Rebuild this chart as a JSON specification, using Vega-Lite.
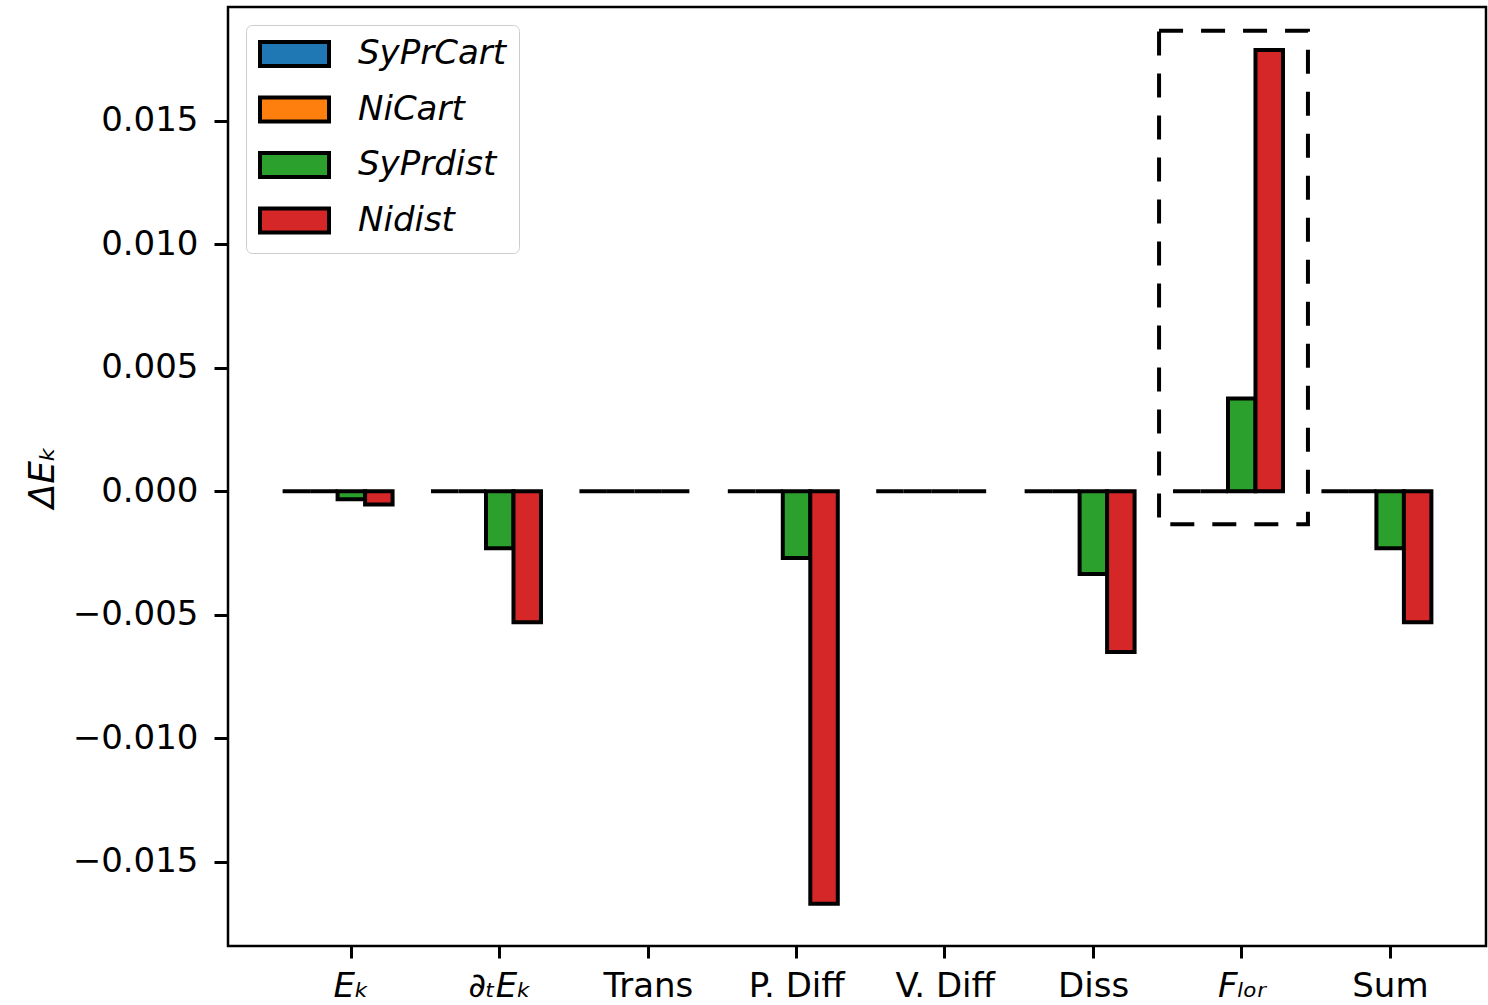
{
  "$schema": "https://vega.github.io/schema/vega-lite/v6.json",
  "width": 1258,
  "height": 939,
  "autosize": {"type": "none"},
  "padding": {"left": 228, "top": 7, "right": 2, "bottom": 59},
  "background": "white",
  "config": {
    "font": "DejaVu Sans",
    "view": {"stroke": "black", "strokeWidth": 2.5},
    "axis": {"domain": false, "grid": false, "tickColor": "black", "tickWidth": 3, "labelColor": "black", "labelFontSize": 34, "labelFont": "DejaVu Sans", "titleFont": "DejaVu Sans"}
  },
  "layer": [
    {
      "data": {"values": [
        {"cat": "E_k", "series": "SyPr_Cart", "value": 0},
        {"cat": "E_k", "series": "Ni_Cart", "value": 0},
        {"cat": "E_k", "series": "SyPr_dist", "value": -0.00032},
        {"cat": "E_k", "series": "Ni_dist", "value": -0.00053},
        {"cat": "dtE_k", "series": "SyPr_Cart", "value": 0},
        {"cat": "dtE_k", "series": "Ni_Cart", "value": 0},
        {"cat": "dtE_k", "series": "SyPr_dist", "value": -0.0023},
        {"cat": "dtE_k", "series": "Ni_dist", "value": -0.0053},
        {"cat": "Trans", "series": "SyPr_Cart", "value": 0},
        {"cat": "Trans", "series": "Ni_Cart", "value": 0},
        {"cat": "Trans", "series": "SyPr_dist", "value": 0},
        {"cat": "Trans", "series": "Ni_dist", "value": 0},
        {"cat": "P. Diff", "series": "SyPr_Cart", "value": 0},
        {"cat": "P. Diff", "series": "Ni_Cart", "value": 0},
        {"cat": "P. Diff", "series": "SyPr_dist", "value": -0.0027},
        {"cat": "P. Diff", "series": "Ni_dist", "value": -0.01669},
        {"cat": "V. Diff", "series": "SyPr_Cart", "value": 0},
        {"cat": "V. Diff", "series": "Ni_Cart", "value": 0},
        {"cat": "V. Diff", "series": "SyPr_dist", "value": 0},
        {"cat": "V. Diff", "series": "Ni_dist", "value": 0},
        {"cat": "Diss", "series": "SyPr_Cart", "value": 0},
        {"cat": "Diss", "series": "Ni_Cart", "value": 0},
        {"cat": "Diss", "series": "SyPr_dist", "value": -0.00335},
        {"cat": "Diss", "series": "Ni_dist", "value": -0.0065},
        {"cat": "F_Lor", "series": "SyPr_Cart", "value": 0},
        {"cat": "F_Lor", "series": "Ni_Cart", "value": 0},
        {"cat": "F_Lor", "series": "SyPr_dist", "value": 0.00376},
        {"cat": "F_Lor", "series": "Ni_dist", "value": 0.01786},
        {"cat": "Sum", "series": "SyPr_Cart", "value": 0},
        {"cat": "Sum", "series": "Ni_Cart", "value": 0},
        {"cat": "Sum", "series": "SyPr_dist", "value": -0.0023},
        {"cat": "Sum", "series": "Ni_dist", "value": -0.0053}
      ]},
      "mark": {"type": "bar", "stroke": "black", "strokeWidth": 4, "opacity": 1},
      "encoding": {
        "x": {
          "field": "cat", "type": "nominal",
          "sort": ["E_k", "dtE_k", "Trans", "P. Diff", "V. Diff", "Diss", "F_Lor", "Sum"],
          "scale": {"domain": ["E_k", "dtE_k", "Trans", "P. Diff", "V. Diff", "Diss", "F_Lor", "Sum"], "paddingInner": 0.259, "paddingOuter": 0.368},
          "axis": {
            "title": null, "labelAngle": 0, "bandPosition": 0.625, "labelOffset": 14, "tickSize": 12, "labelPadding": 11,
            "labelExpr": "datum.value === 'E_k' ? 'Eₖ' : datum.value === 'dtE_k' ? '∂ₜEₖ' : datum.value === 'F_Lor' ? 'Fₗₒᵣ' : datum.value",
            "labelFontStyle": {"condition": {"test": "datum.value === 'E_k' || datum.value === 'dtE_k' || datum.value === 'F_Lor'", "value": "italic"}, "value": "normal"}
          }
        },
        "xOffset": {
          "field": "series", "type": "nominal",
          "sort": ["SyPr_Cart", "Ni_Cart", "SyPr_dist", "Ni_dist"],
          "scale": {"paddingInner": 0, "paddingOuter": 0}
        },
        "y": {
          "field": "value", "type": "quantitative",
          "scale": {"domain": [-0.0184, 0.0196], "nice": false, "zero": false},
          "axis": {
            "values": [-0.015, -0.01, -0.005, 0, 0.005, 0.01, 0.015],
            "format": ".3f", "tickSize": 14, "labelPadding": 16,
            "title": "ΔEₖ", "titleFontSize": 36, "titleFontWeight": "normal", "titleFontStyle": "italic", "titleColor": "black", "titlePadding": 11
          }
        },
        "color": {
          "field": "series", "type": "nominal",
          "sort": ["SyPr_Cart", "Ni_Cart", "SyPr_dist", "Ni_dist"],
          "scale": {"domain": ["SyPr_Cart", "Ni_Cart", "SyPr_dist", "Ni_dist"], "range": ["#1f77b4", "#ff7f0e", "#2ca02c", "#d62728"]},
          "legend": {
            "title": null,
            "orient": "top-left",
            "offset": 18,
            "fillColor": "white",
            "strokeColor": "#cccccc",
            "cornerRadius": 6,
            "padding": 12,
            "symbolType": "M-1,-0.8H3.6V0.8H-1Z",
            "symbolSize": 900,
            "symbolStrokeColor": "black",
            "symbolStrokeWidth": 4,
            "symbolOpacity": 1,
            "labelFontSize": 34,
            "labelFontStyle": "italic",
            "labelColor": "black",
            "labelOffset": 66,
            "labelLimit": 400,
            "rowPadding": 15.5,
            "labelExpr": "datum.value === 'SyPr_Cart' ? 'SyPrCart' : datum.value === 'Ni_Cart' ? 'NiCart' : datum.value === 'SyPr_dist' ? 'SyPrdist' : 'Nidist'"
          }
        }
      }
    },
    {
      "data": {"values": [{"cat": "F_Lor", "top": 0.01864, "bottom": -0.00133}]},
      "mark": {"type": "rect", "fill": null, "fillOpacity": 0, "stroke": "black", "strokeWidth": 4, "strokeDash": [24, 18]},
      "encoding": {
        "x": {"field": "cat", "type": "nominal", "sort": ["E_k", "dtE_k", "Trans", "P. Diff", "V. Diff", "Diss", "F_Lor", "Sum"], "bandPosition": -0.127},
        "x2": {"field": "cat", "bandPosition": 1.227},
        "y": {"field": "top", "type": "quantitative"},
        "y2": {"field": "bottom"}
      }
    }
  ]
}
